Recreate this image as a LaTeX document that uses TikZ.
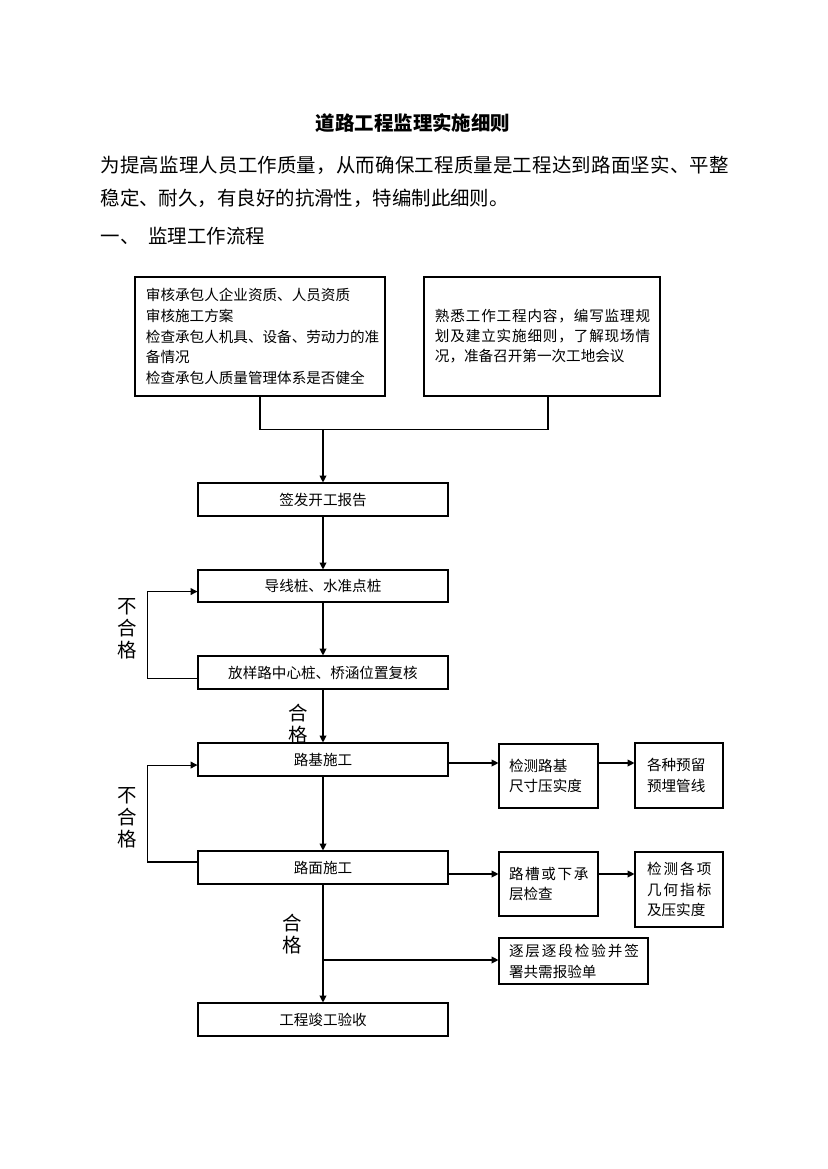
\documentclass[tikz,border=0pt]{standalone}
\usepackage{fontspec}
\setmainfont{Noto Sans CJK SC}
\usetikzlibrary{arrows.meta}

\newcommand{\spaced}[2]{{\addfontfeature{LetterSpace=#1}#2}}

\begin{document}
\begin{tikzpicture}[x=0.72pt, y=-0.72pt, line width=0.8pt,
    box/.style={draw, inner sep=0pt, font=\fontsize{10.5pt}{15pt}\selectfont},
    flow/.style={box, minimum width=180pt, minimum height=23.76pt},
    arrow/.style={-{Triangle[length=5pt, width=5pt]}},
    note/.style={align=center, inner sep=0pt, font=\fontsize{14pt}{15.8pt}\selectfont},
    body/.style={anchor=west, inner sep=0pt, font=\fontsize{14pt}{16pt}\selectfont}]
    \useasboundingbox (0,0) rectangle (827,1169);

    % heading and text
    \node[font=\bfseries\fontsize{14pt}{16pt}\selectfont] (title) at (413,123) {道路工程监理实施细则};
    \node[body] (para1) at (100,165) {\spaced{1}{为提高监理人员工作质量，从而确保工程质量是工程达到路面坚实、平整}};
    \node[body] (para2) at (100,198) {稳定、耐久，有良好的抗滑性，特编制此细则。};
    \node[body] (part1) at (100,236) {一、\hspace{6.5pt}监理工作流程};

    % top boxes
    \node[box, minimum width=180pt, minimum height=85.68pt, text width=164.2pt, inner xsep=7.92pt, align=left] (shenhe) at (260,336.5)
        {审核承包人企业资质、人员资质\\审核施工方案\\检查承包人机具、设备、劳动力的准\\备情况\\检查承包人质量管理体系是否健全};
    \node[box, minimum width=169.92pt, minimum height=85.68pt, text width=154.1pt, inner xsep=7.92pt, align=left, font=\fontsize{10.5pt}{14.4pt}\selectfont] (shuxi) at (542,336.5)
        {\spaced{5.8}{熟悉工作工程内容，编写监理规}\\\spaced{5.8}{划及建立实施细则，了解现场情}\\况，准备召开第一次工地会议};

    % main flow
    \node[flow] (kaigong) at (323,499.5) {签发开工报告};
    \node[flow, minimum height=23.04pt] (daoxian) at (323,586) {导线桩、水准点桩};
    \node[flow] (fangyang) at (323,672.5) {放样路中心桩、桥涵位置复核};
    \node[flow] (luji) at (323,759.5) {路基施工};
    \node[flow] (lumian) at (323,867.5) {路面施工};
    \node[flow] (jungong) at (323,1019.5) {工程竣工验收};

    % side checks
    \node[box, minimum width=71.28pt, minimum height=46.08pt, text width=56.88pt, inner xsep=7.2pt, align=left] (jiance) at (548.5,776) {检测路基\\尺寸压实度};
    \node[box, minimum width=63.36pt, minimum height=46.8pt, text width=46.08pt, inner xsep=8.64pt, align=left] (yuliu) at (679,775.5) {各种预留\\预埋管线};
    \node[box, minimum width=71.28pt, minimum height=46.08pt, text width=56.88pt, inner xsep=7.2pt, align=left] (lucao) at (548.5,884) {\spaced{11}{路槽或下承}\\层检查};
    \node[box, minimum width=63.36pt, minimum height=54pt, text width=46.08pt, inner xsep=8.64pt, align=left] (jihe) at (679,889.5) {\spaced{14}{检测各项}\\\spaced{14}{几何指标}\\及压实度};
    \node[box, minimum width=107.28pt, minimum height=33.12pt, text width=92.88pt, inner xsep=7.2pt, align=left] (zhuceng) at (573.5,961) {\spaced{13}{逐层逐段检验并签}\\署共需报验单};

    % labels
    \node[note] (buhege1) at (127,629) {不\\合\\格};
    \node[note] (hege1) at (298,724) {合\\格};
    \node[note] (buhege2) at (127,818) {不\\合\\格};
    \node[note] (hege2) at (292,934.5) {合\\格};

    \coordinate (merge) at (323,429);
    \coordinate (fork) at (323,960);

    \draw (shenhe.south) -- ++(0,33) -| (shuxi.south -| 548,0);
    \draw[arrow] (merge) -- (kaigong);
    \draw[arrow] (kaigong) -- (daoxian);
    \draw[arrow] (daoxian) -- (fangyang);
    \draw[arrow] (fangyang) -- (luji);
    \draw[arrow] (luji) -- (lumian);
    \draw[arrow] (lumian) -- (jungong);
    \draw[arrow] (fork) -- (fork -| zhuceng.west);

    % loops back
    \draw[arrow] ([yshift=-4pt]fangyang.west) -- ++(-50,0) |- ([yshift=-4pt]daoxian.west);
    \draw[arrow] ([yshift=4pt]lumian.west) -- ++(-50,0) |- ([yshift=-4pt]luji.west);

    % to the right
    \draw[arrow] (luji.east |- 0,763) -- (jiance.west |- 0,763);
    \draw[arrow] (jiance.east |- 0,763) -- (yuliu.west |- 0,763);
    \draw[arrow] (lumian.east |- 0,874) -- (lucao.west |- 0,874);
    \draw[arrow] (lucao.east |- 0,874) -- (jihe.west |- 0,874);
\end{tikzpicture}
\end{document}
